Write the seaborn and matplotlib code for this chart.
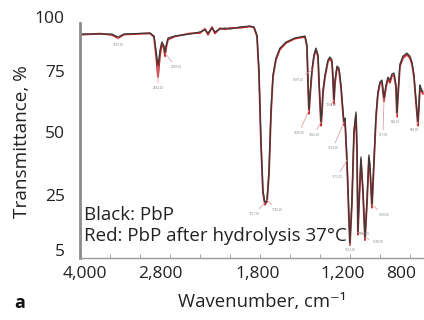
import numpy as np
import pandas as pd
import matplotlib
matplotlib.use("Agg")
import matplotlib.pyplot as plt
import seaborn as sns

# spectrum (wavenumber, cm-1)
wavenumber = [4080, 3760, 3568, 3472, 3376, 2960, 2896, 2864, 2832, 2800,
              2780, 2759, 2749, 2739, 2718, 2647, 2494, 2392, 2341, 2310,
              2269, 2239, 2188, 2137, 2086, 1984, 1882, 1841, 1810, 1793,
              1779, 1765, 1751, 1736, 1722, 1708, 1694, 1673, 1645, 1602,
              1539, 1468, 1454, 1447, 1440, 1433, 1419, 1405, 1391, 1376,
              1369, 1362, 1355, 1348, 1341, 1327, 1306, 1292, 1278, 1271,
              1264, 1256, 1242, 1228, 1214, 1200, 1193, 1186, 1172, 1159,
              1152, 1138, 1124, 1110, 1103, 1097, 1090, 1076, 1062, 1048,
              1034, 1021, 1014, 1000, 986, 972, 959, 945, 931, 917,
              903, 890, 876, 862, 848, 834, 828, 821, 807, 786,
              759, 738, 724, 710, 703, 690, 683, 676, 669, 662,
              648]

pbp = [92.1, 92.1, 92.1, 90.7, 92.1, 92.6, 91.2, 84.7, 77.3, 84.7,
       88.4, 86.6, 83.3, 86.6, 90.3, 91.2, 92.1, 93.1, 94.0, 92.6,
       94.9, 93.1, 94.4, 94.9, 94.4, 95.4, 95.8, 95.4, 91.7, 75.5,
       46.8, 27.0, 22.1, 23.2, 34.9, 59.0, 73.4, 81.0, 85.6, 88.4,
       90.3, 91.2, 87.0, 71.3, 59.0, 65.2, 75.5, 82.4, 85.6, 82.4,
       71.3, 63.1, 54.1, 59.0, 67.2, 73.4, 80.1, 81.5, 80.1, 73.4,
       63.1, 71.3, 77.3, 76.4, 69.3, 59.0, 54.1, 55.7, 38.9, 17.7,
       7.5, 23.2, 50.8, 58.2, 42.9, 11.5, 21.4, 40.1, 27.0, 9.4,
       23.2, 40.9, 37.0, 21.4, 38.9, 57.0, 66.4, 70.5, 71.3, 63.9,
       69.3, 72.5, 71.3, 73.8, 74.2, 69.3, 57.8, 65.2, 78.2, 81.9,
       83.3, 81.9, 79.2, 73.4, 68.0, 59.0, 54.1, 61.0, 69.3, 68.0,
       66.4]

pbp_hydrolysed = [91.8, 92.3, 91.7, 90.2, 91.9, 92.4, 90.8, 82.5, 72.5, 82.0,
                  88.0, 85.2, 81.8, 85.4, 89.6, 91.0, 92.4, 92.6, 94.5, 91.8,
                  95.3, 92.4, 94.8, 94.3, 94.9, 95.0, 95.6, 95.1, 91.0, 74.0,
                  45.5, 26.0, 21.5, 22.6, 33.5, 57.5, 72.6, 80.2, 85.0, 88.0,
                  90.0, 90.8, 86.2, 69.8, 57.5, 64.0, 74.6, 81.6, 84.9, 81.6,
                  69.8, 61.5, 52.6, 57.8, 66.0, 72.4, 79.4, 80.8, 79.2, 72.0,
                  61.5, 70.2, 76.5, 75.4, 68.1, 57.6, 52.8, 54.6, 37.6, 16.5,
                  6.8, 22.0, 49.5, 57.0, 41.8, 10.6, 20.4, 39.0, 26.0, 8.6,
                  22.2, 39.8, 36.0, 20.4, 37.8, 55.8, 65.5, 69.8, 70.6, 62.5,
                  68.4, 71.8, 70.2, 73.0, 73.4, 68.2, 56.2, 64.0, 77.2, 81.0,
                  82.6, 81.0, 78.2, 72.3, 66.8, 57.8, 52.6, 60.0, 68.4, 67.2,
                  65.6]

# picked peaks carrying the tiny instrument labels
peak_wn = [3472, 2832, 2749, 1751, 1736, 1419, 1440, 1355, 1264, 1193,
           1172, 1152, 1097, 1048, 1000, 917, 828, 683]
peak_offset = [(0, -8), (0, -22), (11, -14), (-11, -11), (10, -10), (-14, -10),
               (-10, -23), (-7, -13), (-3, -5), (-11, -26), (-10, -17), (0, -7),
               (6, -2), (13, -4), (12, -10), (-1, -37), (-1, -9), (-3, -8)]

x_ticks = [4000, 2800, 1800, 1200, 800]
x_ticklabels = ["4,000", "2,800", "1,800", "1,200", "800"]
y_ticks = [5, 25, 50, 75, 100]

df = pd.concat([
    pd.DataFrame({"wn": wavenumber, "T": pbp, "sample": "PbP"}),
    pd.DataFrame({"wn": wavenumber, "T": pbp_hydrolysed, "sample": "hydrolysed"}),
])

# the original axes are not linear: tick labels sit at uneven spacing
x_anchor = [600, 800, 1200, 1800, 2800, 4000, 4200]
x_pos = [-8, 21, 79, 164, 262, 337, 349.5]
y_anchor = [0, 5, 25, 50, 75, 100, 110]
y_pos = [-5.75, 8, 63, 126, 187, 241, 262.6]

def fx(v):
    return np.interp(v, x_anchor, x_pos)

def fx_inv(v):
    return np.interp(v, x_pos, x_anchor)

def fy(v):
    return np.interp(v, y_anchor, y_pos)

def fy_inv(v):
    return np.interp(v, y_pos, y_anchor)

sns.set_style("white")
plt.rcParams["font.family"] = ["Open Sans", "DejaVu Sans"]

fig = plt.figure(figsize=(4.24, 3.2), dpi=100)
ax = fig.add_axes([80 / 424, 62 / 320, 344 / 424, 241 / 320])
ax.set_xscale("function", functions=(fx, fx_inv))
ax.set_yscale("function", functions=(fy, fy_inv))

# peak labels with leader lines, drawn under the spectra
lookup = dict(zip(wavenumber, pbp))
for wn, (dx, dy) in zip(peak_wn, peak_offset):
    ax.annotate(f"{wn:.2f}", xy=(wn, lookup[wn]), xytext=(dx * 0.72, dy * 0.72),
                textcoords="offset points", fontsize=2.2, color="#808080",
                ha="center", va="center",
                arrowprops=dict(arrowstyle="-", color="#d9a3a3", lw=0.6,
                                shrinkA=0, shrinkB=0))

sns.lineplot(data=df[df["sample"] == "hydrolysed"], x="wn", y="T", color="#c62828",
             lw=1.3, estimator=None, sort=False, ax=ax, legend=False)
sns.lineplot(data=df[df["sample"] == "PbP"], x="wn", y="T", color="#3a3a3a",
             lw=0.9, estimator=None, sort=False, ax=ax, legend=False)

ax.set_xlim(4080, 641)
ax.set_ylim(2.1, 100)
ax.set_xticks(x_ticks)
ax.set_xticklabels(x_ticklabels)
ax.set_xticks([4080, 3600, 3120, 2698, 2392, 2086, 1786, 1574, 1362, 1152, 945, 738], minor=True)
ax.set_yticks(y_ticks)
ax.set_yticklabels([str(v) for v in y_ticks])
ax.tick_params(axis="x", which="major", length=0, pad=6, labelsize=12.5, colors="#222222")
ax.tick_params(axis="x", which="minor", length=3, direction="in", color="#999999", bottom=True)
ax.tick_params(axis="y", length=0, pad=11, labelsize=12.5, colors="#222222")
ax.set_xlabel("")
ax.set_ylabel("")

for s in ["top", "right"]:
    ax.spines[s].set_visible(False)
ax.spines["left"].set_color("#8c8c8c")
ax.spines["left"].set_linewidth(2)
ax.spines["left"].set_bounds(2.1, 97.2)
ax.spines["bottom"].set_color("#9a9a9a")
ax.spines["bottom"].set_linewidth(1)

fig.text(84 / 424, 1 - 215 / 320, "Black: PbP", fontsize=13.5, va="center", ha="left", color="#222222")
fig.text(84 / 424, 1 - 236 / 320, "Red: PbP after hydrolysis 37°C", fontsize=13.5, va="center", ha="left", color="#222222")
fig.text(262 / 424, 1 - 302 / 320, "Wavenumber, cm⁻¹", fontsize=13.3, ha="center", va="center", color="#222222")
fig.text(22 / 424, 1 - 142 / 320, "Transmittance, %", fontsize=13.7, rotation=90, ha="center", va="center", color="#222222")
fig.text(20 / 424, 1 - 303 / 320, "a", fontsize=13, fontweight="bold", ha="center", va="center", color="#111111")

fig.savefig("out.png", dpi=100, facecolor="white")
